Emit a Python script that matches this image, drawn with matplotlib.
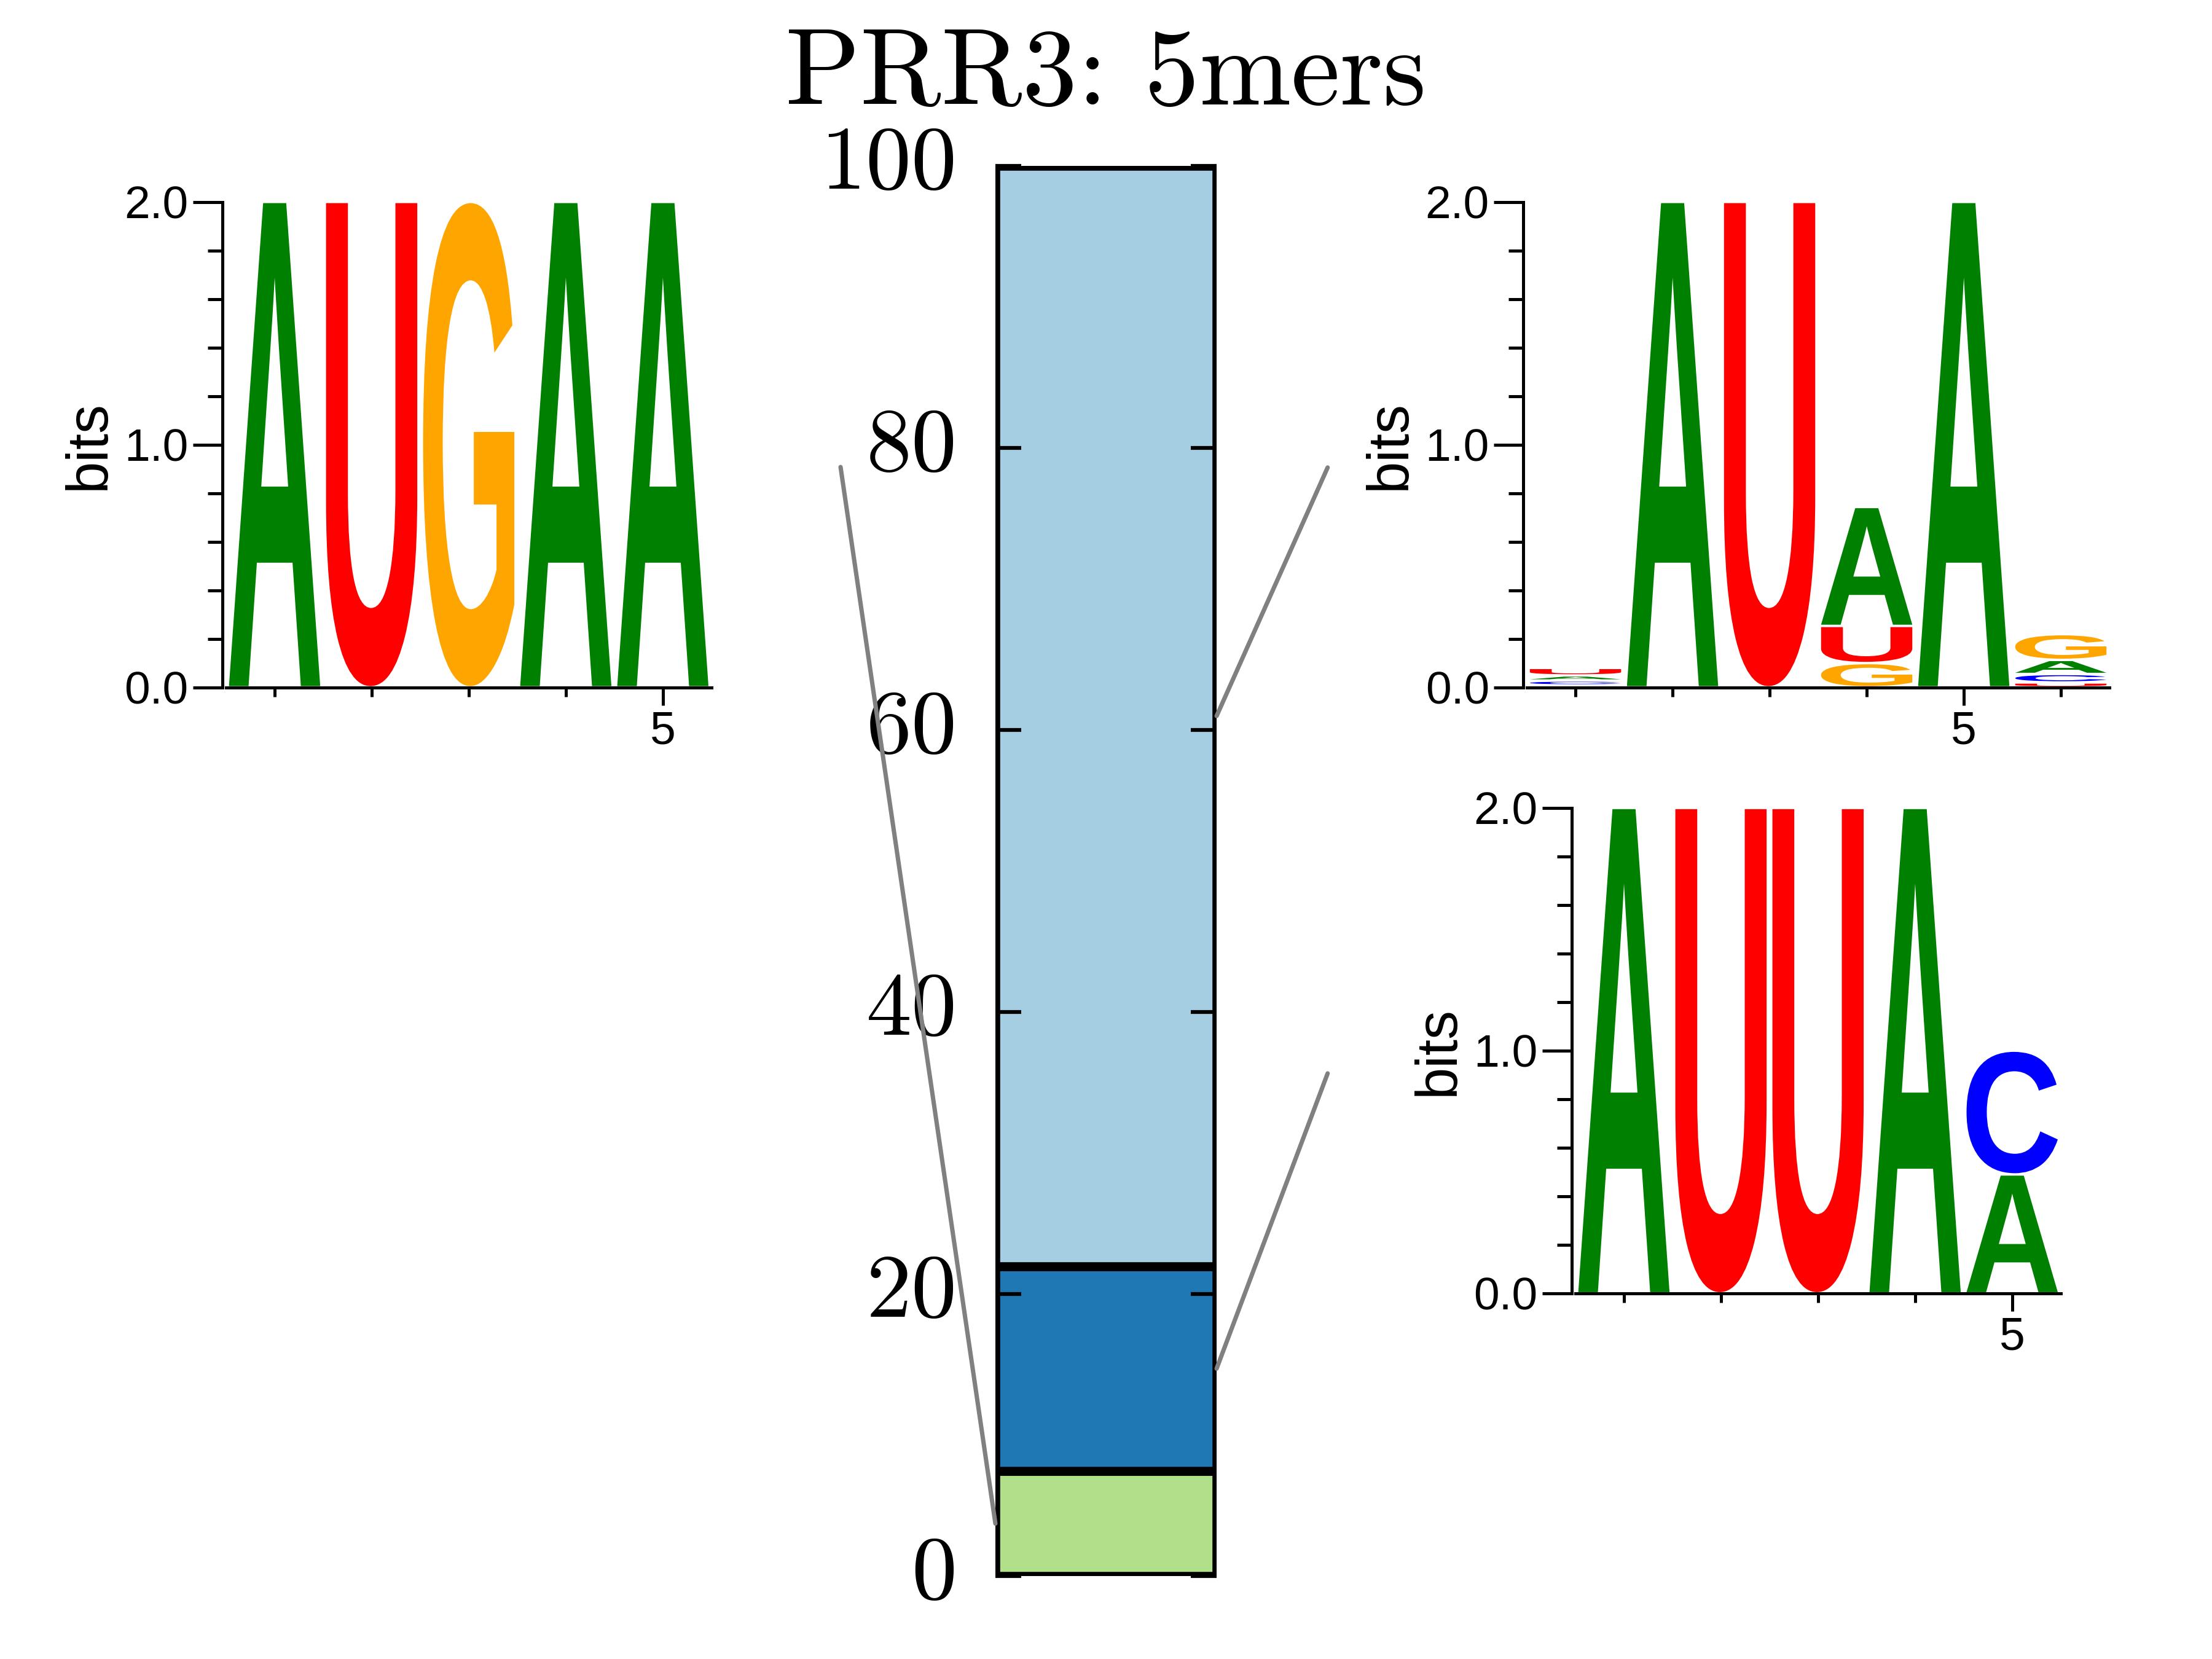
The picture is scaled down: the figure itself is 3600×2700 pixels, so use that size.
import matplotlib
matplotlib.use('Agg')
import matplotlib.pyplot as plt
import numpy as np
from matplotlib.textpath import TextPath
from matplotlib.font_manager import FontProperties
from matplotlib.patches import PathPatch, ConnectionPatch
from matplotlib.transforms import Affine2D

plt.rcParams['font.family'] = ['Liberation Sans', 'DejaVu Sans']

# ---------------- data ----------------
title = "PRR3: 5mers"
bar_values = [7.44, 14.54, 78.02]            # green, dark blue, light blue (bottom -> top)
bar_colors = ['#b2df8a', '#1f78b4', '#a6cee3']
bar_yticks = [0, 20, 40, 60, 80, 100]

# logos: per position, stack from bottom to top as (letter, bits)
logo_left = [
    [('A', 2.0)],
    [('U', 2.0)],
    [('G', 2.0)],
    [('A', 2.0)],
    [('A', 2.0)],
]
logo_top_right = [
    [('G', 0.008), ('C', 0.020), ('A', 0.021), ('U', 0.031)],
    [('A', 2.0)],
    [('U', 2.0)],
    [('G', 0.100), ('U', 0.153), ('A', 0.490)],
    [('A', 2.0)],
    [('U', 0.020), ('C', 0.035), ('A', 0.058), ('G', 0.106)],
]
logo_bottom_right = [
    [('A', 2.0)],
    [('U', 2.0)],
    [('U', 2.0)],
    [('A', 2.0)],
    [('A', 0.49), ('C', 0.51)],
]
letter_colors = {'A': '#008000', 'C': '#0000ff', 'G': '#ffa500', 'U': '#ff0000'}

# ---------------- figure ----------------
fig = plt.figure(figsize=(12, 9), dpi=300)

glyph_fp = FontProperties(family='Liberation Sans', weight='bold')
VSEP = 0.01
GLYPH_W = 0.94


def draw_glyph(ax, ch, x, y0, h, color):
    tp = TextPath((0, 0), ch, size=1, prop=glyph_fp)
    ext = tp.get_extents()
    tr = (Affine2D().translate(-ext.x0, -ext.y0)
          .scale(GLYPH_W / ext.width, h / ext.height)
          .translate(x - GLYPH_W / 2, y0))
    path = tr.transform_path(tp)
    ax.add_patch(PathPatch(path, facecolor=color, edgecolor='none', lw=0))


def make_logo(rect, stacks):
    ax = fig.add_axes(rect)
    n = len(stacks)
    for i, stack in enumerate(stacks):
        y = 0.0
        for ch, h in stack:
            if h > VSEP:
                draw_glyph(ax, ch, i + 1, y + VSEP / 2, h - VSEP, letter_colors[ch])
            y += h
    ax.set_xlim(0.5, n + 0.5)
    ax.set_ylim(0, 2)
    ax.spines['top'].set_visible(False)
    ax.spines['right'].set_visible(False)
    ax.spines['left'].set_position(('outward', 1.5))
    for s in ('left', 'bottom'):
        ax.spines[s].set_linewidth(1.2)
    ax.set_xticks([5])
    ax.set_xticklabels(['5'])
    ax.set_xticks([p for p in range(1, n + 1) if p != 5], minor=True)
    ax.set_yticks([0, 1, 2])
    ax.set_yticklabels(['0.0', '1.0', '2.0'])
    ax.set_yticks([0.2, 0.4, 0.6, 0.8, 1.2, 1.4, 1.6, 1.8], minor=True)
    ax.tick_params(axis='y', which='major', length=11.5, width=1.2, pad=1.7, labelsize=18)
    ax.tick_params(axis='y', which='minor', length=5.8, width=1.2)
    ax.tick_params(axis='x', which='major', length=7, width=1.2, pad=2, labelsize=18)
    ax.tick_params(axis='x', which='minor', length=3.5, width=1.2)
    ax.set_ylabel('bits', fontsize=22.5, labelpad=3)
    return ax


# central stacked bar
axb = fig.add_axes([0.45, 0.05, 0.10, 0.85])
bottoms = np.concatenate([[0], np.cumsum(bar_values)[:-1]])
axb.bar([0] * len(bar_values), bar_values, bottom=bottoms, width=1.0,
        color=bar_colors, edgecolor='black', linewidth=3.5)
axb.set_xlim(-0.5, 0.5)
axb.set_ylim(0, 100)
for s in axb.spines.values():
    s.set_visible(False)
axb.set_xticks([])
axb.set_yticks(bar_yticks)
axb.set_yticklabels([str(v) for v in bar_yticks], fontfamily='cmr10', fontsize=35.5,
                    va='center')
axb.tick_params(axis='y', direction='in', length=10, width=1.5,
                left=True, right=True, labelleft=True, labelright=False, pad=15)

fig.text(0.5, 0.937, title, ha='center', va='baseline', fontfamily='cmr10', fontsize=43)

ax_l = make_logo([0.1022, 0.5857, 0.2194, 0.2926], logo_left)
ax_tr = make_logo([0.6903, 0.5857, 0.2633, 0.2926], logo_top_right)
ax_br = make_logo([0.7122, 0.2204, 0.2194, 0.2926], logo_bottom_right)

# connectors: logo anchor (figure fraction) -> bar segment middle
mids = bottoms + np.array(bar_values) / 2
connectors = [((0.380, 0.7185), (-0.5, mids[0])),
              ((0.6002, 0.7182), (0.5, mids[2])),
              ((0.6002, 0.353), (0.5, mids[1]))]
for (fxy, bxy) in connectors:
    con = ConnectionPatch(xyA=fxy, coordsA='figure fraction', xyB=bxy, coordsB='data',
                          axesB=axb, color='#808080', lw=1.7)
    fig.add_artist(con)

fig.savefig('out.png', dpi=300)
